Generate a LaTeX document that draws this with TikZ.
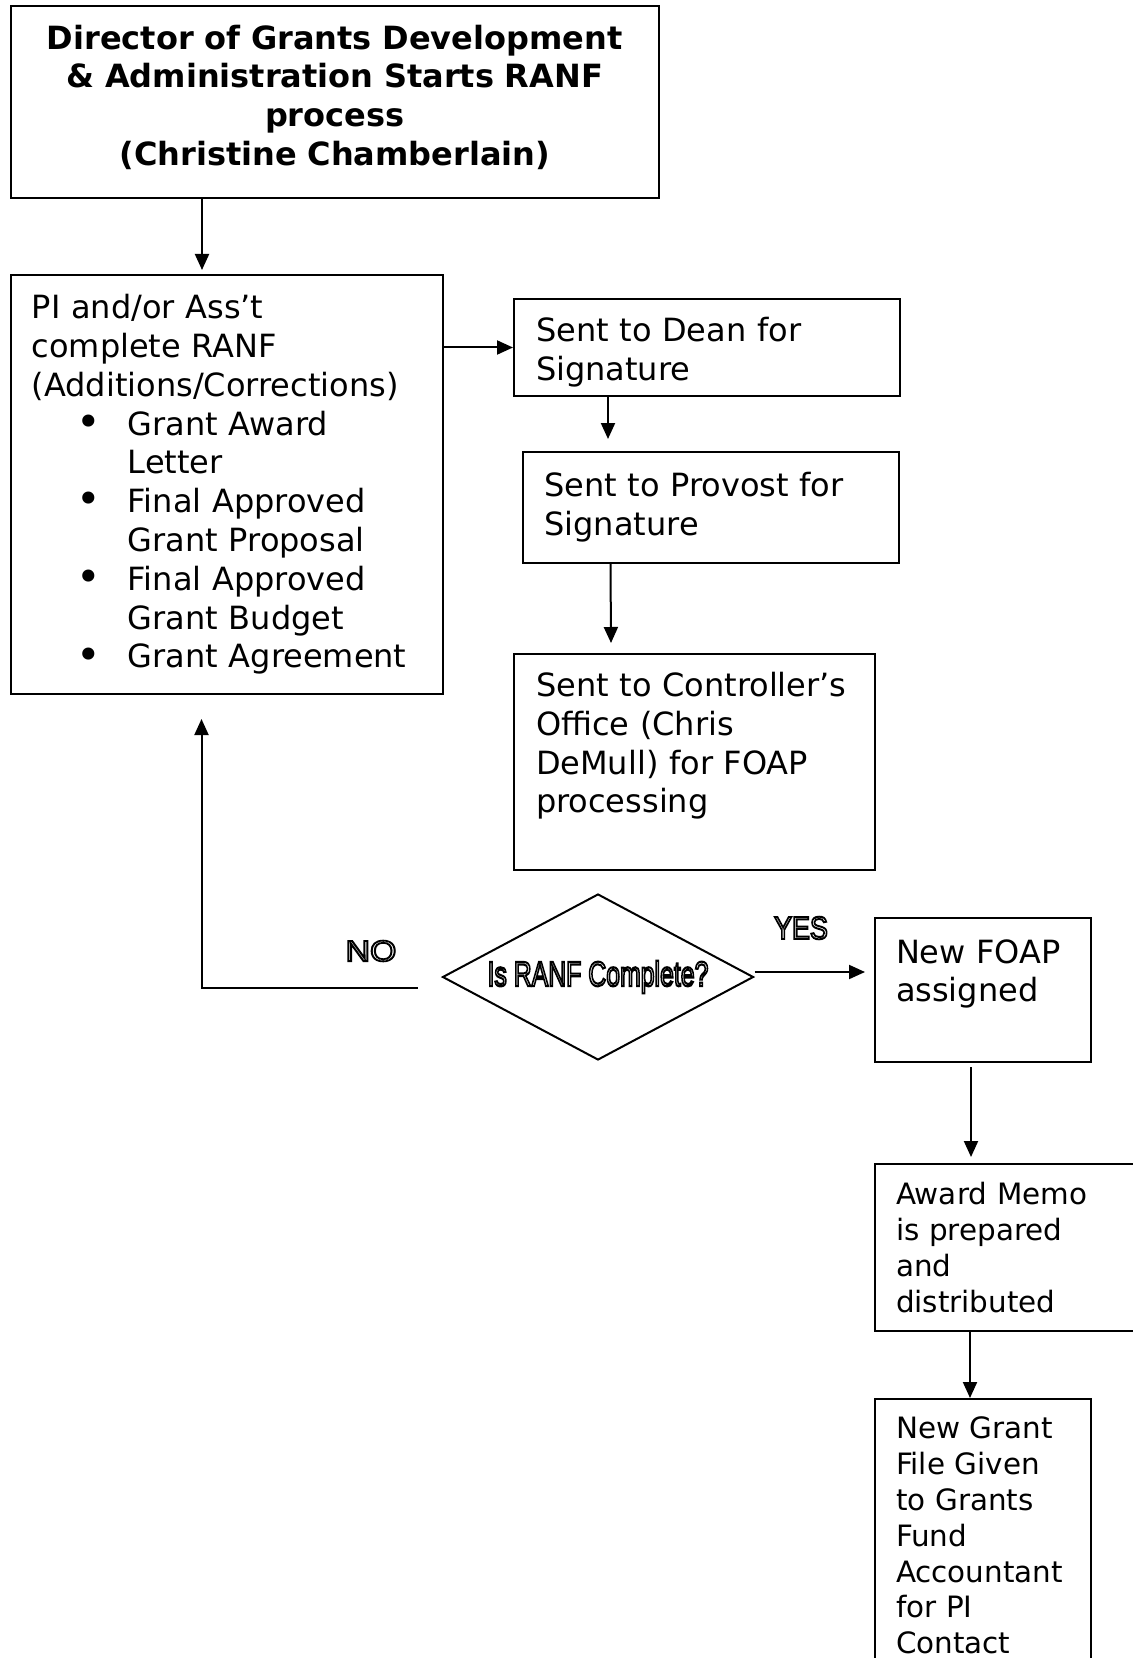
\documentclass[tikz,border=0pt]{standalone}
\usepackage{fontspec}
\setmainfont{DejaVu Sans}
\newfontfamily\wordart[FakeBold=6]{Liberation Sans}
\usetikzlibrary{shapes,arrows.meta,positioning,calc}

\newcommand{\outlined}[1]{{\color{white}\special{pdf:code 0 G}#1}}
\newcommand{\bul}{\makebox[48pt][l]{\hspace*{22.5pt}\raisebox{-0.6pt}{\scalebox{1.3}{\textbullet}}}}
\newcommand{\cont}{\hspace*{48pt}}

\begin{document}
\begin{tikzpicture}[x=0.5pt, y=-0.5pt,
    stepbox/.style={rectangle, draw=black, line width=1pt, anchor=north west, align=left, inner xsep=10.5pt, inner ysep=4pt, font=\fontsize{16}{19.4}\selectfont},
    smallbox/.style={stepbox, font=\fontsize{14.7}{17.9}\selectfont},
    startbox/.style={stepbox, align=center, font=\bfseries\fontsize{16}{19.3}\selectfont},
    decision/.style={diamond, aspect=1.87, draw=black, line width=1pt, minimum width=155.5pt, minimum height=83pt, inner sep=0pt, font=\wordart\fontsize{17.5}{20}\selectfont},
    answer/.style={inner sep=0pt, font=\wordart\fontsize{14.7}{17}\selectfont},
    flow/.style={-{Triangle[length=8pt, width=7pt]}, line width=1pt}
]
\useasboundingbox (0,0) rectangle (1133,1658);

% left column
\node[startbox, minimum width=324.25pt, minimum height=96pt, text width=303pt] (start) at (9.5,5)
    {Director of Grants Development\\ \& Administration Starts RANF\\ process\\ (Christine Chamberlain)\rule[-7pt]{0pt}{1pt}};
\node[stepbox, minimum width=216.25pt, minimum height=209.5pt, text width=195pt] (pi) at (9.5,274)
    {PI and/or Ass’t\\ complete RANF\\ (Additions/Corrections)\\
     \bul Grant Award\\ \cont Letter\\
     \bul Final Approved\\ \cont Grant Proposal\\
     \bul Final Approved\\ \cont Grant Budget\\
     \bul Grant Agreement};

% signatures
\node[stepbox, minimum width=192.5pt, minimum height=48.5pt, text width=171pt, inner xsep=11pt] (dean) at (513,298)
    {\rule{0pt}{17pt}Sent to Dean for\\ Signature};
\node[stepbox, minimum width=188.25pt, minimum height=55.5pt, text width=166.5pt, inner xsep=10.75pt] (provost) at (521.5,451)
    {Sent to Provost for\\ Signature};
\node[stepbox, minimum width=180.5pt, minimum height=108pt, text width=158.5pt, inner xsep=11pt] (ctrl) at (513,653)
    {Sent to Controller’s\\ Office (Chris\\ DeMull) for FOAP\\ processing\\ \mbox{}};

% decision
\node[decision] (check) at (598,977) {\scalebox{0.71}[1]{\outlined{Is RANF Complete?}}};
\node[answer] (no) at (371,951) {\scalebox{1.15}[1]{\outlined{NO}}};
\node[answer, font=\wordart\fontsize{16}{18}\selectfont] (yes) at (801,928) {\scalebox{0.84}[1]{\outlined{YES}}};

% right column
\node[stepbox, minimum width=108pt, minimum height=72pt, text width=87pt] (foap) at (874,917)
    {New FOAP\\ assigned\\ \mbox{}};
\node[smallbox, minimum width=135pt, minimum height=83.5pt, text width=114pt] (memo) at (874,1163)
    {Award Memo\\ is prepared\\ and\\ distributed};
\node[smallbox, minimum width=108pt, text width=87pt, inner ysep=9pt] (grant) at (874,1398)
    {New Grant\\ File Given\\ to Grants\\ Fund\\ Accountant\\ for PI\\ Contact};

% connectors
\draw[flow] ([xshift=96.25pt]start.south west) -- ([xshift=96.25pt,yshift=2pt]pi.north west);
\draw[flow] (pi.east |- dean.west) -- (dean.west);
\draw[flow] ([xshift=47.5pt]dean.south west) -- ([xshift=43.25pt,yshift=6pt]provost.north west);
\draw[flow] ([xshift=44.5pt]provost.south west) -- ([xshift=49pt,yshift=5pt]ctrl.north west);
\draw[flow] ([shift={(-12pt,-5.5pt)}]check.west) -| ([xshift=96pt,yshift=-12pt]pi.south west);
\draw[flow] ([yshift=2.5pt]check.east) -- ([xshift=-4.5pt,yshift=2.5pt]check.east -| foap.west);
\draw[flow] ([xshift=48.5pt,yshift=-2pt]foap.south west) -- ([xshift=48.5pt,yshift=3pt]memo.north west);
\draw[flow] ([xshift=48pt]memo.south west) -- ([xshift=48pt]grant.north west);

\end{tikzpicture}
\end{document}
